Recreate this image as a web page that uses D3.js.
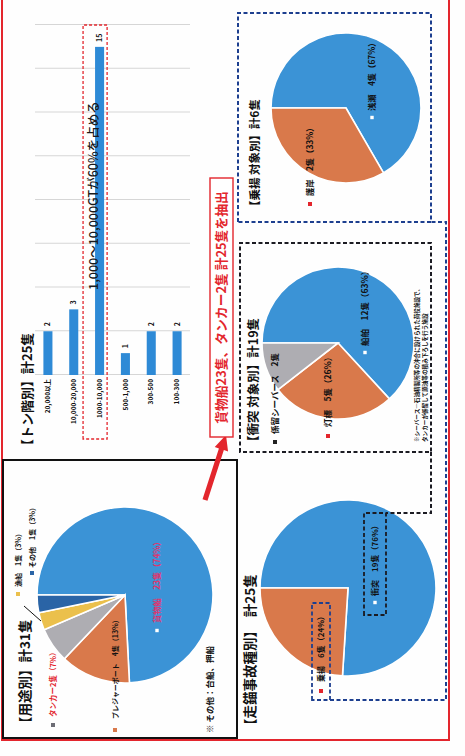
<!DOCTYPE html>
<html><head><meta charset="utf-8">
<script src="https://cdn.jsdelivr.net/npm/d3@7"></script>
<style>
body{margin:0;background:#fff}
svg{display:block}
text{font-family:"Noto Sans CJK JP","Noto Sans",sans-serif}
</style>
</head><body>
<svg id="c" width="465" height="756"></svg>
<script>
// ---------------- data ----------------
const tonCategories = ["20,000以上","10,000-20,000","1000-10,000","500-1,000","300-500","100-300"];
const tonValues = [2,3,15,1,2,2];
const tonTicks = [0,2,4,6,8,10,12,14,16];

const useCategories = ["貨物船","プレジャーボート","タンカー","漁船","その他"];
const useValues = [23,4,2,1,1];
const useLabels = ["貨物船　23隻（74%）","プレジャーボート　4隻（13%）","タンカー2隻（7%）","漁船　1隻（3%）","その他　1隻（3%）"];

const accCategories = ["衝突","乗揚"];
const accValues = [19,6];
const accLabels = ["衝突　19隻（76%）","乗揚　6隻（24%）"];

const colCategories = ["船舶","灯標","係留シーバース"];
const colValues = [12,5,2];
const colLabels = ["船舶　12隻（63%）","灯標　5隻（26%）","係留シーバース　2隻"];

const grdCategories = ["浅瀬","護岸"];
const grdValues = [4,2];
const grdLabels = ["浅瀬　4隻（67%）","護岸　2隻（33%）"];

// ---------------- setup ----------------
const C = {blue:"#3b93d6", bar:"#2e8ad6", orange:"#d9794b", gray:"#aeadb2", yellow:"#ebc04c", navy:"#2a64a6",
           red:"#e3262d", dashBlue:"#1d3f8f", dashBlack:"#1b1b22"};
const W = 756;
const svg = d3.select("#c");
svg.append("rect").attr("width",465).attr("height",756).attr("fill","#fefefe");
// whole page is drawn in its original landscape frame, then turned
const g = svg.append("g").attr("transform",`translate(0,${W}) rotate(-90)`);

function txt(x,y,s,size,opt={}){
  return g.append("text").attr("x",x).attr("y",y).attr("dy","0.36em")
    .attr("font-size",size).attr("font-weight",opt.weight||700)
    .attr("fill",opt.fill||"#111").attr("text-anchor",opt.anchor||"start").text(s);
}
function key(x,y,color,hollow){
  if(hollow){
    g.append("rect").attr("x",x).attr("y",y-2.5).attr("width",5).attr("height",5)
      .attr("fill","#fff").attr("stroke",color).attr("stroke-width",1.6);
  } else {
    g.append("rect").attr("x",x).attr("y",y-2).attr("width",4).attr("height",4).attr("fill",color);
  }
}
function drawPie(cx,cy,r,values,colors){
  const pie = d3.pie().sort(null).value(d=>d);
  const arc = d3.arc().innerRadius(0).outerRadius(r);
  g.append("g").attr("transform",`translate(${cx},${cy})`)
    .selectAll("path").data(pie(values)).join("path")
    .attr("d",arc).attr("fill",(d,i)=>colors[i])
    .attr("stroke","#fff").attr("stroke-width",1.6);
}

// outer red frame
g.append("rect").attr("x",16).attr("y",2).attr("width",760).attr("height",447)
  .attr("fill","none").attr("stroke",C.red).attr("stroke-width",2);
// black box (用途別)
g.append("rect").attr("x",18).attr("y",3).attr("width",278).attr("height",234)
  .attr("fill","none").attr("stroke","#111").attr("stroke-width",2);

// ---------------- tonnage bar chart ----------------
const xT = d3.scaleLinear().domain([0,16]).range([381,731]);
const yT = d3.scaleBand().domain(tonCategories).range([35,190]).paddingInner(0.65).paddingOuter(0.325);

const grid = g.append("g").attr("transform","translate(0,190)")
  .call(d3.axisTop(xT).tickValues(tonTicks).tickSize(155).tickFormat(""));
grid.select(".domain").remove();
grid.selectAll("line").attr("stroke","#d6d6d6").attr("stroke-width",1);

g.selectAll("rect.bar").data(tonValues).join("rect").attr("class","bar")
  .attr("x",xT(0)).attr("y",(d,i)=>yT(tonCategories[i]))
  .attr("width",d=>xT(d)-xT(0)).attr("height",yT.bandwidth()).attr("fill",C.bar);

g.selectAll("text.val").data(tonValues).join("text").attr("class","val")
  .attr("x",d=>xT(d)+5).attr("y",(d,i)=>yT(tonCategories[i])+yT.bandwidth()/2)
  .attr("dy","0.36em").attr("font-size",7).attr("font-weight",700).attr("fill","#111").text(d=>d);

const catAx = g.append("g").attr("transform",`translate(${xT(0)},0)`)
  .call(d3.axisLeft(yT).tickSize(0).tickPadding(4));
catAx.select(".domain").remove();
catAx.selectAll("text").attr("font-size",6.5).attr("font-weight",700).attr("fill","#111")
  .attr("font-family",'"Noto Sans CJK JP",sans-serif');

// red dashed highlight around 1000-10,000
const hb = yT("1000-10,000");
g.append("rect").attr("x",xT(0)-64).attr("y",hb-12).attr("width",xT(16)-xT(0)+64).attr("height",yT.bandwidth()+15)
  .attr("fill","none").attr("stroke",C.red).attr("stroke-width",1.3).attr("stroke-dasharray","3,2");
txt(466,93,"1,000～10,000GTが60%を占める",12.5,{weight:500,fill:"#1a1a1a"});
txt(304,27,"【トン階別】計25隻",13);

// ---------------- 用途別 pie ----------------
txt(26,25,"【用途別】計31隻",13.5);
drawPie(161,125,88,useValues,[C.blue,C.orange,C.gray,C.yellow,C.navy]);
key(123,157,C.blue,true); txt(133,157,useLabels[0],8.3,{fill:"#e2336c"});
key(24,115,C.orange,false); txt(37,115,useLabels[1],7,{});
key(29,53,"#6d6d75",false); txt(39,53,useLabels[2],7.5,{fill:"#e3262d"});
key(160,18,C.yellow,false); txt(169,18,useLabels[3],7,{});
key(181,32,C.navy,false); txt(188,32,useLabels[4],7,{});
g.append("path").attr("d","M135,41 L150,24").attr("stroke","#111").attr("stroke-width",1).attr("fill","none");
txt(23,210,"※ その他：台船、押船",8.5);

// ---------------- arrow + extraction box ----------------
(function(){
  const x0=256,y0=205,x1=321,y1=226;
  const dx=x1-x0, dy=y1-y0, L=Math.hypot(dx,dy), ux=dx/L, uy=dy/L, nx=-uy, ny=ux;
  const hl=15, hw=7, sw=2.6;
  const bx=x1-ux*hl, by=y1-uy*hl;
  const pts=[[x0+nx*sw,y0+ny*sw],[bx+nx*sw,by+ny*sw],[bx+nx*hw,by+ny*hw],[x1,y1],
             [bx-nx*hw,by-ny*hw],[bx-nx*sw,by-ny*sw],[x0-nx*sw,y0-ny*sw]];
  g.append("polygon").attr("points",pts.map(p=>p.join(",")).join(" ")).attr("fill",C.red);
})();
g.append("rect").attr("x",319).attr("y",210).attr("width",259).attr("height",23)
  .attr("fill","#fff").attr("stroke",C.red).attr("stroke-width",1.4);
txt(448.5,221.5,"貨物船23隻、タンカー2隻 計25隻を抽出",12.8,{anchor:"middle",fill:C.red});

// ---------------- 乗揚 対象別 ----------------
g.append("rect").attr("x",534).attr("y",238).attr("width",209).attr("height",193)
  .attr("fill","none").attr("stroke",C.dashBlue).attr("stroke-width",2).attr("stroke-dasharray","4,2.5");
txt(544,255,"【乗揚 対象別】計6隻",11.5);
drawPie(648,346,75,grdValues,[C.blue,C.orange]);
key(636,372,C.blue,true); txt(645,372,grdLabels[0],8.3,{});
key(550,310,C.red,false); txt(560,310,grdLabels[1],8.3,{});

// ---------------- 衝突 対象別 ----------------
g.append("rect").attr("x",304).attr("y",240).attr("width",209).attr("height",191)
  .attr("fill","none").attr("stroke",C.dashBlack).attr("stroke-width",2).attr("stroke-dasharray","4,2.5");
txt(308,253,"【衝突 対象別】計19隻",12.5);
drawPie(413,338,76,colValues,[C.blue,C.orange,C.gray]);
key(401,365,C.blue,true); txt(410,365,colLabels[0],8.5,{});
key(318,328,C.red,false); txt(329,328,colLabels[1],8.5,{});
key(312,275,"#222",false); txt(322,275,colLabels[2],8.5,{});
txt(314,417,"※シーバース…石油精製所等の沖合に設けられた荷役施設で、",5.6);
txt(314,425,"タンカーが係留して原油等の積み下ろしを行う施設",5.6);

// ---------------- 走錨事故種別 ----------------
txt(24,250,"【走錨事故種別】　計25隻",13.5);
drawPie(168,348,88,accValues,[C.blue,C.orange]);
g.append("rect").attr("x",141).attr("y",364).attr("width",102).attr("height",22)
  .attr("fill","none").attr("stroke",C.dashBlack).attr("stroke-width",1.8).attr("stroke-dasharray","4,2.5");
key(151,375,C.blue,true); txt(160,375,accLabels[0],8,{});
g.append("rect").attr("x",56).attr("y",312).attr("width",97).attr("height",18)
  .attr("fill","none").attr("stroke",C.dashBlue).attr("stroke-width",1.8).attr("stroke-dasharray","4,2.5");
key(63,321,C.red,false); txt(74,321,accLabels[1],8,{});

// connectors
g.append("path").attr("d","M304,431 L243,431 L243,386").attr("fill","none")
  .attr("stroke",C.dashBlack).attr("stroke-width",2).attr("stroke-dasharray","4,2.5");
g.append("path").attr("d","M56,330 L56,446 L534,446 L534,431").attr("fill","none")
  .attr("stroke",C.dashBlue).attr("stroke-width",2).attr("stroke-dasharray","4,2.5");
</script>
</body></html>
